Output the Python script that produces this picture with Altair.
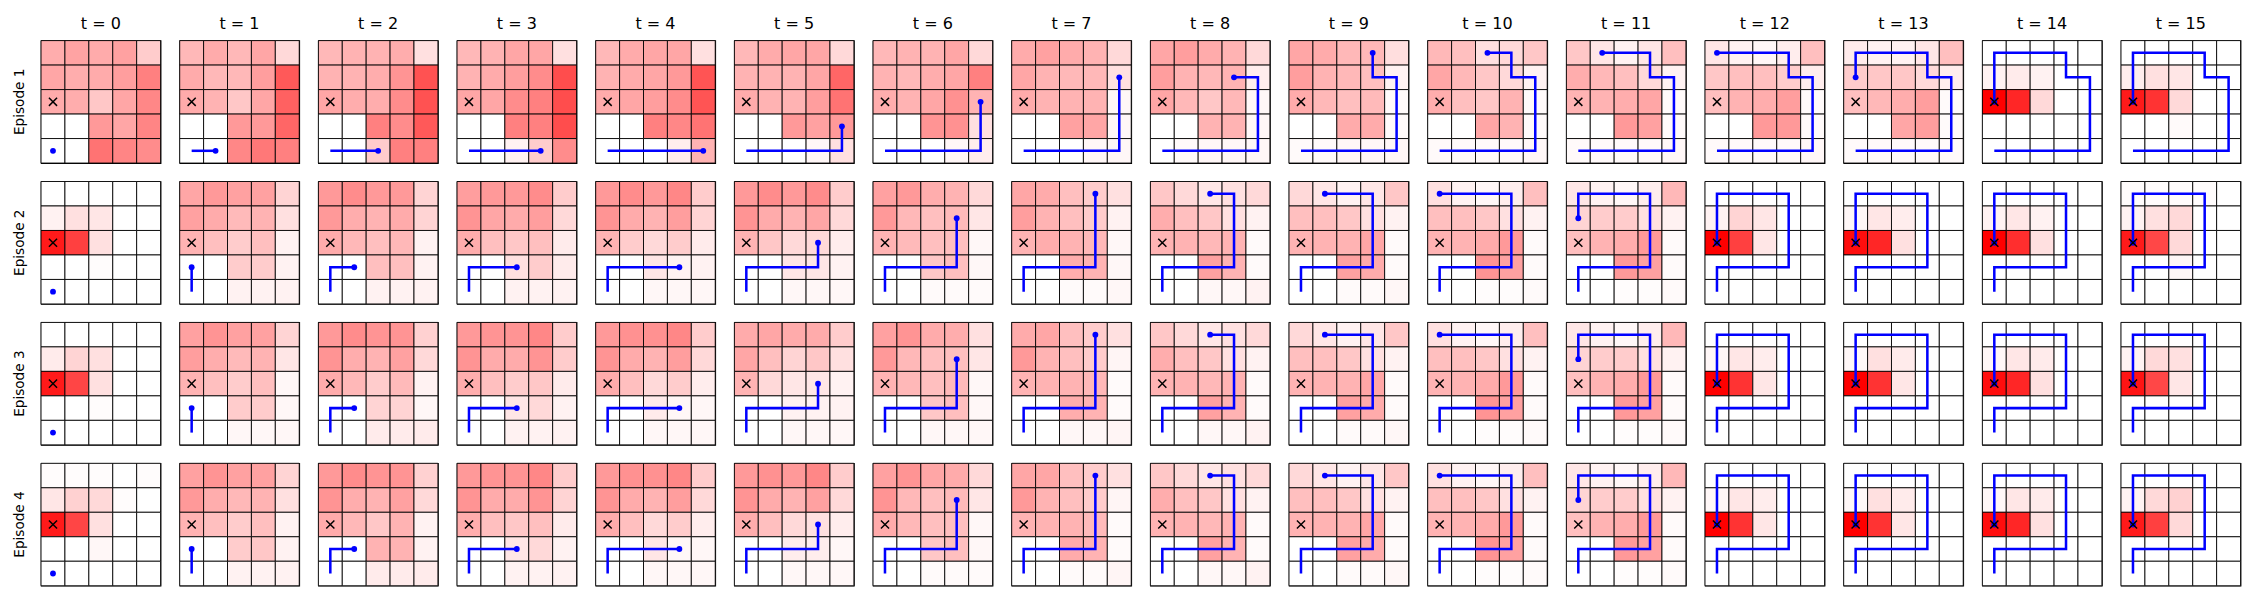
import altair as alt
import pandas as pd

# Heat values per episode: 16 time steps, each 5 rows (top -> bottom) x 5 cols
EP1_HEAT = [
    [[0.32,0.36,0.33,0.37,0.20],[0.35,0.32,0.33,0.38,0.50],[0.33,0.32,0.22,0.35,0.47],[0,0,0.40,0.35,0.48],[0,0,0.55,0.48,0.45]],
    [[0.28,0.33,0.28,0.35,0.15],[0.33,0.28,0.28,0.38,0.65],[0.33,0.30,0.22,0.35,0.62],[0,0,0.40,0.40,0.60],[0,0,0.47,0.53,0.50]],
    [[0.28,0.30,0.30,0.32,0.12],[0.30,0.30,0.32,0.42,0.68],[0.35,0.32,0.32,0.45,0.68],[0,0,0.50,0.45,0.65],[0,0,0.20,0.50,0.50]],
    [[0.28,0.30,0.35,0.35,0.12],[0.30,0.33,0.38,0.45,0.70],[0.35,0.35,0.45,0.50,0.70],[0,0,0.50,0.50,0.70],[0,0,0.05,0.20,0.45]],
    [[0.28,0.33,0.35,0.35,0.12],[0.30,0.33,0.35,0.40,0.67],[0.33,0.35,0.38,0.45,0.67],[0,0,0.50,0.47,0.55],[0,0,0,0.07,0.30]],
    [[0.28,0.33,0.35,0.35,0.15],[0.30,0.30,0.30,0.35,0.60],[0.33,0.30,0.30,0.38,0.55],[0,0,0.40,0.37,0.40],[0,0,0,0.03,0.12]],
    [[0.28,0.30,0.30,0.35,0.15],[0.30,0.28,0.32,0.35,0.50],[0.32,0.30,0.35,0.43,0.30],[0,0,0.42,0.43,0.12],[0,0,0,0.03,0.07]],
    [[0.33,0.37,0.33,0.30,0.15],[0.35,0.30,0.28,0.28,0.12],[0.33,0.30,0.30,0.30,0.03],[0,0,0.37,0.35,0.03],[0,0,0,0.03,0.03]],
    [[0.35,0.38,0.33,0.30,0.15],[0.38,0.30,0.28,0.30,0.07],[0.35,0.28,0.22,0.28,0.03],[0,0,0.30,0.30,0.03],[0,0.02,0.03,0.03,0.03]],
    [[0.35,0.33,0.28,0.28,0.13],[0.38,0.30,0.28,0.25,0.05],[0.33,0.28,0.25,0.27,0.02],[0,0,0.33,0.33,0.02],[0.02,0.02,0.03,0.03,0.03]],
    [[0.28,0.25,0.12,0.15,0.22],[0.35,0.28,0.22,0.15,0.05],[0.32,0.25,0.22,0.30,0.02],[0,0,0.35,0.30,0.02],[0.02,0.02,0.02,0.02,0.03]],
    [[0.22,0.10,0.05,0.10,0.25],[0.32,0.28,0.25,0.15,0.05],[0.30,0.30,0.32,0.35,0.02],[0,0,0.40,0.37,0.02],[0.02,0.02,0.02,0.02,0.03]],
    [[0.10,0.05,0.03,0.07,0.25],[0.22,0.25,0.25,0.20,0.07],[0.25,0.30,0.32,0.38,0.02],[0,0,0.40,0.40,0.02],[0.02,0.02,0.02,0.02,0.03]],
    [[0.08,0.05,0.05,0.10,0.25],[0.20,0.22,0.22,0.15,0.07],[0.25,0.28,0.32,0.38,0.02],[0,0,0.35,0.38,0.02],[0.02,0.02,0.02,0.02,0.02]],
    [[0,0,0,0,0],[0.05,0.08,0.05,0,0],[1.00,0.85,0.15,0,0],[0,0,0,0,0],[0,0,0,0,0]],
    [[0,0,0,0,0],[0.07,0.12,0.10,0,0],[0.90,0.80,0.15,0,0],[0,0,0.02,0,0],[0,0,0,0,0]],
]
EP2_HEAT = [
    [[0,0,0,0,0],[0.05,0.12,0.10,0,0],[0.90,0.75,0.12,0,0],[0,0,0.01,0,0],[0,0,0,0,0]],
    [[0.35,0.40,0.37,0.37,0.17],[0.37,0.33,0.27,0.30,0.12],[0.30,0.25,0.20,0.25,0.05],[0,0,0.20,0.20,0.05],[0,0,0.05,0.05,0.05]],
    [[0.40,0.45,0.40,0.40,0.17],[0.40,0.32,0.30,0.33,0.17],[0.33,0.28,0.25,0.28,0.05],[0,0,0.25,0.25,0.05],[0,0,0.05,0.05,0.05]],
    [[0.38,0.40,0.40,0.45,0.20],[0.42,0.35,0.33,0.38,0.15],[0.32,0.25,0.22,0.25,0.08],[0,0,0.12,0.20,0.08],[0,0,0.05,0.05,0.05]],
    [[0.40,0.45,0.40,0.47,0.20],[0.42,0.33,0.30,0.38,0.17],[0.30,0.20,0.15,0.20,0.08],[0,0,0.10,0.05,0.05],[0,0,0.03,0.03,0.03]],
    [[0.40,0.45,0.40,0.45,0.20],[0.42,0.33,0.30,0.35,0.15],[0.30,0.22,0.15,0.15,0.07],[0,0,0.10,0.10,0.05],[0,0,0.03,0.03,0.03]],
    [[0.37,0.40,0.32,0.30,0.15],[0.40,0.28,0.25,0.27,0.10],[0.30,0.27,0.25,0.25,0.03],[0,0,0.22,0.25,0.03],[0,0,0.02,0.02,0.02]],
    [[0.35,0.33,0.25,0.20,0.12],[0.38,0.30,0.25,0.20,0.05],[0.30,0.32,0.30,0.28,0.03],[0,0,0.32,0.30,0.03],[0,0,0.02,0.02,0.03]],
    [[0.22,0.15,0.10,0.12,0.15],[0.32,0.25,0.22,0.12,0.05],[0.30,0.30,0.28,0.30,0.02],[0,0,0.37,0.30,0.02],[0,0,0.03,0.03,0.05]],
    [[0.15,0.10,0.05,0.10,0.22],[0.25,0.25,0.22,0.12,0.05],[0.30,0.30,0.30,0.35,0.02],[0,0,0.37,0.33,0.02],[0,0,0.02,0.02,0.03]],
    [[0.12,0.05,0.03,0.07,0.25],[0.25,0.25,0.22,0.12,0.05],[0.30,0.30,0.33,0.40,0.02],[0,0,0.42,0.37,0.02],[0,0,0.01,0.01,0.02]],
    [[0.10,0.05,0.03,0.07,0.28],[0.17,0.20,0.20,0.12,0.05],[0.25,0.30,0.32,0.40,0.02],[0,0,0.40,0.37,0.02],[0,0,0.01,0.01,0.02]],
    [[0,0,0,0,0],[0.05,0.17,0.10,0,0],[1.00,0.75,0.10,0,0],[0,0,0,0,0],[0,0,0,0,0]],
    [[0,0,0,0,0],[0.03,0.10,0.07,0,0],[0.95,0.85,0.12,0,0],[0,0,0,0,0],[0,0,0,0,0]],
    [[0,0,0,0,0],[0.05,0.10,0.05,0,0],[1.00,0.82,0.12,0,0],[0,0,0,0,0],[0,0,0,0,0]],
    [[0.01,0.01,0.01,0.01,0],[0.05,0.12,0.15,0,0],[0.90,0.72,0.15,0,0],[0,0,0.03,0,0],[0,0,0,0,0]],
]
EP3_HEAT = [
    [[0,0,0,0,0],[0.08,0.17,0.12,0,0],[0.90,0.73,0.12,0,0],[0,0,0.01,0,0],[0,0,0,0,0]],
    [[0.37,0.42,0.37,0.37,0.17],[0.38,0.32,0.27,0.30,0.10],[0.30,0.25,0.20,0.25,0.03],[0,0,0.20,0.20,0.03],[0,0,0.03,0.03,0.03]],
    [[0.40,0.45,0.42,0.42,0.18],[0.42,0.32,0.30,0.37,0.15],[0.33,0.28,0.20,0.27,0.05],[0,0,0.17,0.17,0.03],[0,0,0.08,0.08,0.08]],
    [[0.40,0.42,0.42,0.47,0.20],[0.42,0.33,0.33,0.42,0.20],[0.32,0.25,0.20,0.22,0.08],[0,0,0.10,0.15,0.05],[0,0,0.05,0.05,0.05]],
    [[0.40,0.43,0.43,0.47,0.20],[0.42,0.33,0.30,0.38,0.15],[0.33,0.25,0.15,0.20,0.07],[0,0,0.08,0.03,0.03],[0,0,0.03,0.03,0.03]],
    [[0.33,0.35,0.33,0.33,0.20],[0.35,0.25,0.17,0.22,0.12],[0.30,0.15,0.10,0.10,0.05],[0,0,0.05,0.05,0.05],[0,0,0.03,0.03,0.03]],
    [[0.37,0.42,0.33,0.32,0.12],[0.40,0.28,0.25,0.25,0.10],[0.30,0.28,0.25,0.27,0.03],[0,0,0.22,0.25,0.03],[0,0,0.03,0.03,0.03]],
    [[0.33,0.35,0.25,0.20,0.12],[0.40,0.30,0.25,0.20,0.04],[0.30,0.30,0.30,0.28,0.02],[0,0,0.32,0.30,0.02],[0,0,0.03,0.03,0.04]],
    [[0.22,0.15,0.10,0.12,0.15],[0.32,0.25,0.22,0.12,0.05],[0.30,0.30,0.28,0.30,0.02],[0,0,0.37,0.30,0.02],[0,0,0.03,0.03,0.05]],
    [[0.15,0.10,0.05,0.10,0.22],[0.25,0.25,0.22,0.12,0.05],[0.30,0.30,0.30,0.35,0.02],[0,0,0.37,0.33,0.02],[0,0,0.02,0.02,0.03]],
    [[0.12,0.05,0.03,0.07,0.25],[0.25,0.25,0.22,0.12,0.05],[0.30,0.30,0.33,0.40,0.02],[0,0,0.42,0.37,0.02],[0,0,0.01,0.01,0.02]],
    [[0.10,0.05,0.03,0.07,0.28],[0.17,0.20,0.20,0.12,0.05],[0.25,0.30,0.32,0.40,0.02],[0,0,0.40,0.37,0.02],[0,0,0.01,0.01,0.02]],
    [[0,0,0,0,0],[0.03,0.10,0.07,0,0],[1.00,0.80,0.10,0,0],[0,0,0,0,0],[0,0,0,0,0]],
    [[0,0,0,0,0],[0.03,0.12,0.08,0,0],[1.00,0.80,0.10,0,0],[0,0,0,0,0],[0,0,0,0,0]],
    [[0,0,0,0,0],[0.03,0.10,0.08,0,0],[0.95,0.85,0.12,0,0],[0,0,0,0,0],[0,0,0,0,0]],
    [[0,0,0,0,0],[0.05,0.15,0.12,0,0],[0.92,0.72,0.10,0,0],[0,0,0,0,0],[0,0,0,0,0]],
]
EP4_HEAT = [
    [[0.01,0.01,0.01,0,0.01],[0.10,0.18,0.15,0.01,0],[0.90,0.73,0.12,0,0],[0,0,0.03,0,0],[0,0,0,0,0]],
    [[0.37,0.42,0.37,0.37,0.17],[0.40,0.32,0.28,0.30,0.12],[0.30,0.25,0.20,0.25,0.05],[0,0,0.20,0.22,0.05],[0,0,0.05,0.05,0.05]],
    [[0.40,0.45,0.42,0.42,0.18],[0.42,0.32,0.30,0.37,0.15],[0.33,0.28,0.22,0.30,0.05],[0,0,0.30,0.30,0.05],[0,0,0.08,0.08,0.08]],
    [[0.40,0.42,0.42,0.47,0.20],[0.42,0.33,0.33,0.42,0.17],[0.32,0.25,0.22,0.25,0.08],[0,0,0.10,0.15,0.05],[0,0,0.05,0.05,0.05]],
    [[0.40,0.43,0.43,0.47,0.20],[0.42,0.33,0.30,0.38,0.15],[0.33,0.25,0.15,0.20,0.07],[0,0,0.10,0.03,0.03],[0,0,0.03,0.03,0.03]],
    [[0.40,0.43,0.40,0.47,0.20],[0.42,0.33,0.30,0.37,0.15],[0.32,0.25,0.15,0.12,0.07],[0,0,0.07,0.07,0.03],[0,0,0.03,0.03,0.03]],
    [[0.37,0.42,0.35,0.33,0.15],[0.42,0.28,0.25,0.27,0.10],[0.33,0.28,0.25,0.25,0.03],[0,0,0.22,0.25,0.03],[0,0,0.02,0.02,0.02]],
    [[0.35,0.35,0.25,0.20,0.12],[0.40,0.30,0.25,0.20,0.04],[0.30,0.30,0.30,0.27,0.02],[0,0,0.33,0.30,0.02],[0,0,0.02,0.02,0.04]],
    [[0.22,0.15,0.10,0.12,0.15],[0.32,0.25,0.22,0.12,0.05],[0.30,0.30,0.28,0.30,0.02],[0,0,0.37,0.30,0.02],[0,0,0.03,0.03,0.05]],
    [[0.15,0.10,0.05,0.10,0.22],[0.25,0.25,0.22,0.12,0.05],[0.30,0.30,0.30,0.35,0.02],[0,0,0.37,0.33,0.02],[0,0,0.02,0.02,0.03]],
    [[0.12,0.05,0.03,0.07,0.25],[0.25,0.25,0.22,0.12,0.05],[0.30,0.30,0.33,0.40,0.02],[0,0,0.42,0.37,0.02],[0,0,0.01,0.01,0.02]],
    [[0.10,0.05,0.03,0.07,0.28],[0.17,0.20,0.20,0.12,0.05],[0.25,0.30,0.32,0.40,0.02],[0,0,0.40,0.37,0.02],[0,0,0.01,0.01,0.02]],
    [[0,0,0,0,0],[0.03,0.10,0.07,0,0],[1.00,0.80,0.10,0,0],[0,0,0,0,0],[0,0,0,0,0]],
    [[0,0,0,0,0],[0.03,0.12,0.08,0,0],[1.00,0.80,0.10,0,0],[0,0,0,0,0],[0,0,0,0,0]],
    [[0,0,0,0,0],[0.03,0.10,0.08,0,0],[0.95,0.85,0.12,0,0],[0,0,0,0,0],[0,0,0,0,0]],
    [[0,0,0,0,0],[0.05,0.15,0.18,0,0],[0.90,0.75,0.15,0,0],[0,0,0,0,0],[0,0,0,0,0]],
]

# Agent position (col, row-from-bottom) at each time step
EP1_PATH = [(0,0),(1,0),(2,0),(3,0),(4,0),(4,1),(4,2),(4,3),(3,3),(3,4),(2,4),(1,4),(0,4),(0,3),(0,2),(0,2)]
EP2_PATH = [(0,0),(0,1),(1,1),(2,1),(3,1),(3,2),(3,3),(3,4),(2,4),(1,4),(0,4),(0,3),(0,2),(0,2),(0,2),(0,2)]
EP3_PATH = list(EP2_PATH)
EP4_PATH = list(EP2_PATH)

GOAL = (0, 2)
EPISODES = [1, 2, 3, 4]
TIMES = list(range(16))

heats = [EP1_HEAT, EP2_HEAT, EP3_HEAT, EP4_HEAT]
paths = [EP1_PATH, EP2_PATH, EP3_PATH, EP4_PATH]

rows = []
for ep, heat, path in zip(EPISODES, heats, paths):
    for t in TIMES:
        grid = heat[t]
        for ri, rvals in enumerate(grid):
            r = 4 - ri
            for c, v in enumerate(rvals):
                rows.append(dict(ep=ep, t=t, kind="cell", x=c, x2=c + 1, y=r, y2=r + 1, v=v))
        for s in range(t + 1):
            c, r = path[s]
            rows.append(dict(ep=ep, t=t, kind="path", step=s, cx=c + 0.5, cy=r + 0.5))
        c, r = path[t]
        rows.append(dict(ep=ep, t=t, kind="dot", cx=c + 0.5, cy=r + 0.5))
        rows.append(dict(ep=ep, t=t, kind="goal", cx=GOAL[0] + 0.5, cy=GOAL[1] + 0.5))

df = pd.DataFrame(rows)

xs = alt.Scale(domain=[0, 5], nice=False, zero=False)
ys = alt.Scale(domain=[0, 5], nice=False, zero=False)

heat = alt.Chart().transform_filter(alt.datum.kind == "cell").mark_rect(
    stroke="black", strokeWidth=1, strokeOpacity=0.9
).encode(
    x=alt.X("x:Q", scale=xs, axis=None),
    x2="x2:Q",
    y=alt.Y("y:Q", scale=ys, axis=None),
    y2="y2:Q",
    color=alt.Color("v:Q", scale=alt.Scale(domain=[0, 1], range=["#ffffff", "#ff0000"], interpolate="rgb"), legend=None),
)

line = alt.Chart().transform_filter(alt.datum.kind == "path").mark_line(
    color="#0000ff", strokeWidth=2.6
).encode(
    x=alt.X("cx:Q", scale=xs, axis=None),
    y=alt.Y("cy:Q", scale=ys, axis=None),
    order="step:Q",
)

dot = alt.Chart().transform_filter(alt.datum.kind == "dot").mark_circle(
    color="#0000ff", size=36, opacity=1
).encode(
    x=alt.X("cx:Q", scale=xs, axis=None),
    y=alt.Y("cy:Q", scale=ys, axis=None),
)

goal = alt.Chart().transform_filter(alt.datum.kind == "goal").mark_point(
    shape="M-1,-1L1,1M-1,1L1,-1", filled=False, color="black", strokeWidth=1.5, size=70, opacity=1
).encode(
    x=alt.X("cx:Q", scale=xs, axis=None),
    y=alt.Y("cy:Q", scale=ys, axis=None),
)

chart = alt.layer(heat, line, dot, goal, data=df).properties(
    width=123, height=126
).facet(
    row=alt.Row("ep:O", title=None, header=alt.Header(
        labelExpr="'Episode ' + datum.value", labelFontSize=14, labelFont="DejaVu Sans",
        labelAngle=-90, labelOrient="left", labelPadding=6, labelColor="black")),
    column=alt.Column("t:O", title=None, header=alt.Header(
        labelExpr="'t = ' + datum.value", labelFontSize=16.5, labelFont="DejaVu Sans",
        labelPadding=6, labelColor="black")),
    spacing={"row": 15, "column": 15.7},
).properties(
    padding={"left": 4, "top": 0, "right": 0, "bottom": 0}
).configure_view(
    stroke="black", strokeWidth=1.2
)

chart.save("out.html", embed_options={"renderer": "svg", "actions": False})
